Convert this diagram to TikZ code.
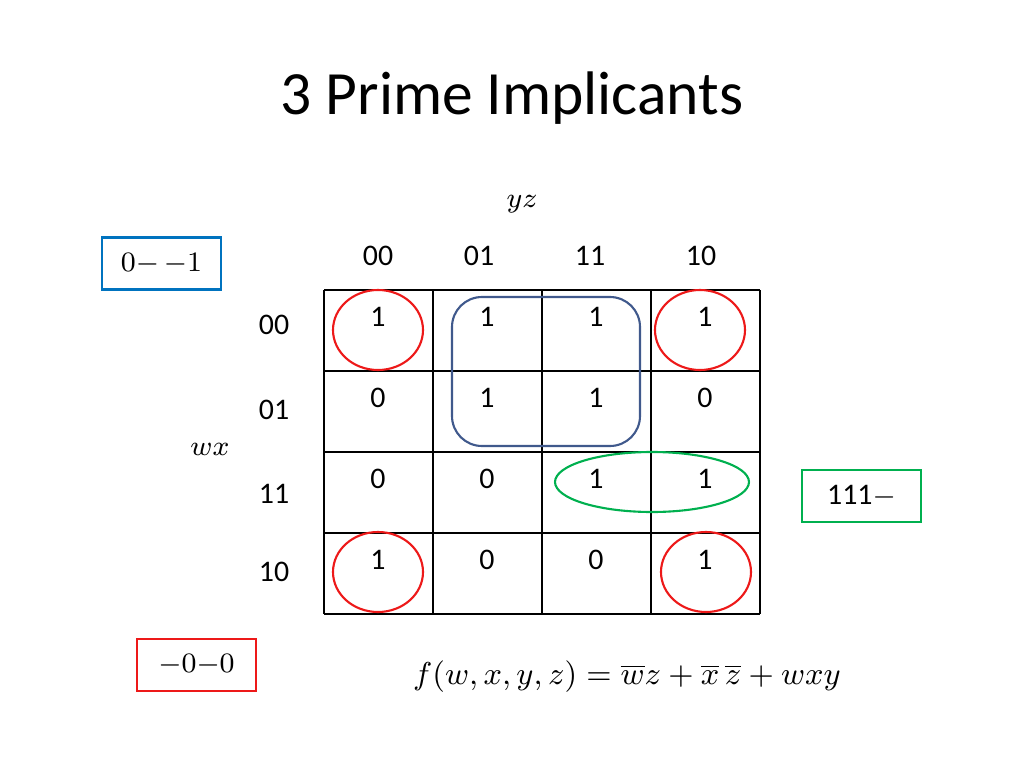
\documentclass[tikz,border=0pt]{standalone}
\usepackage{fontspec}
\setmainfont{Carlito}
\usepackage{amsmath}
\usetikzlibrary{positioning,calc}
\definecolor{kred}{rgb}{0.93,0.1,0.1}
\definecolor{kblue}{rgb}{0.0,0.45,0.75}
\definecolor{kslate}{rgb}{0.25,0.35,0.55}
\definecolor{kgreen}{rgb}{0.0,0.69,0.31}
\tikzset{
  cellval/.style={font=\fontsize{8.5}{10}\selectfont},
  labelbox/.style={draw, line width=0.6pt, minimum width=1.19cm, minimum height=0.52cm, font=\fontsize{8.5}{10}\selectfont},
  loop/.style={line width=0.6pt}
}
\begin{document}
\begin{tikzpicture}
\useasboundingbox (0,0) rectangle (10.24,-7.68);

\node[font=\fontsize{17.5}{20}\selectfont] (title) at (5.12,-0.98) {3 Prime Implicants};

\draw[step=1cm, line width=0.5pt, xscale=1.09, yscale=0.81, shift={(2.9725,-3.5802)}] (0,-4) grid (4,0);

\node[cellval] (yz) at (5.22,-2.04) {$yz$};
\node[cellval] (wx) at (2.10,-4.49) {$wx$};

\foreach \c/\t/\xx in {0/00/3.78, 1/01/4.79, 2/11/5.90, 3/10/7.01}
  \node[cellval] (col\c) at (\xx,-2.56) {\t};
\foreach \r/\t/\yy in {0/00/3.25, 1/01/4.10, 2/11/4.94, 3/10/5.72}
  \node[cellval] (row\r) at (2.74,-\yy) {\t};

\foreach \c/\r/\v in {
    0/0/1, 1/0/1, 2/0/1, 3/0/1,
    0/1/0, 1/1/1, 2/1/1, 3/1/0,
    0/2/0, 1/2/0, 2/2/1, 3/2/1,
    0/3/1, 1/3/0, 2/3/0, 3/3/1}
  \node[cellval] (v\c\r) at (3.78+1.09*\c,-3.17-0.81*\r) {\v};

% loops
\draw[loop, kred] (3.78,-3.30) ellipse (0.45 and 0.40);
\draw[loop, kred] (7.00,-3.30) ellipse (0.45 and 0.40);
\draw[loop, kred] (3.78,-5.72) ellipse (0.45 and 0.40);
\draw[loop, kred] (7.06,-5.72) ellipse (0.45 and 0.40);
\draw[loop, kslate, rounded corners=0.3cm] (4.52,-2.97) rectangle (6.40,-4.46);
\draw[loop, kgreen] (6.52,-4.82) ellipse (0.97 and 0.30);

\node[labelbox, draw=kblue] (pa) at (1.615,-2.635) {$0{-}\,{-}1$};
\node[labelbox, draw=kgreen] (pb) at (8.615,-4.96) {111$-$};
\node[labelbox, draw=kred] (pc) at (1.965,-6.65) {$-0{-}0$};

\node[font=\fontsize{9.5}{11}\selectfont] (f) at (6.27,-6.77)
  {$f(w,x,y,z) = \overline{w}z + \overline{x}\,\overline{z} + wxy$};
\end{tikzpicture}
\end{document}
